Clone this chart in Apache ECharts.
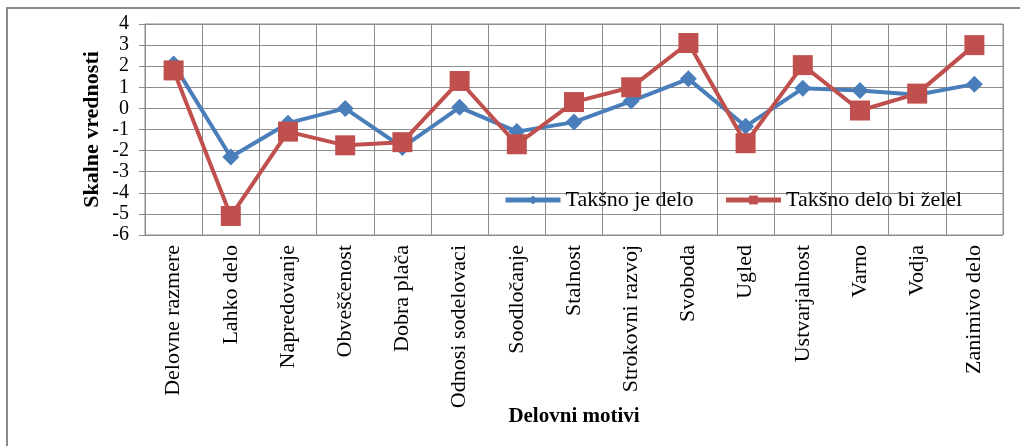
<!DOCTYPE html>
<html>
<head>
<meta charset="utf-8">
<script src="https://cdn.jsdelivr.net/npm/echarts@6/dist/echarts.min.js"></script>
<style>
  html, body { margin: 0; padding: 0; background: #fff; }
  #chart { width: 1020px; height: 446px; }
</style>
</head>
<body>
<div id="chart"></div>
<script>
let categories = ['Delovne razmere', 'Lahko delo', 'Napredovanje', 'Obveščenost', 'Dobra plača',
  'Odnosi sodelovaci', 'Soodločanje', 'Stalnost', 'Strokovni razvoj', 'Svoboda',
  'Ugled', 'Ustvarjalnost', 'Varno', 'Vodja', 'Zanimivo delo'];
let jeDelo = [2.1, -2.3, -0.7, 0.0, -1.85, 0.05, -1.1, -0.65, 0.35, 1.4, -0.85, 0.95, 0.85, 0.65, 1.15];
let biZelel = [1.8, -5.1, -1.1, -1.75, -1.6, 1.3, -1.7, 0.3, 1.0, 3.1, -1.65, 2.05, -0.1, 0.7, 3.0];
let seriesNames = ['Takšno je delo', 'Takšno delo bi želel'];

let font = 'Liberation Serif';
let gridColor = '#8c8c8c';

let chart = echarts.init(document.getElementById('chart'));
let option = {
  animation: false,
  textStyle: { fontFamily: font, color: '#000' },
  graphic: [{
    type: 'rect',
    shape: { x: 7, y: 8, width: 1040, height: 470 },
    style: { fill: 'none', stroke: '#8a8a8a', lineWidth: 2 }
  }],
  grid: {
    left: 145, right: 17, top: 24, bottom: 211,
    show: true, borderColor: gridColor, borderWidth: 1
  },
  legend: {
    left: 503, top: 189,
    padding: 0,
    itemWidth: 55, itemHeight: 11, itemGap: 30,
    lineStyle: { width: 5 },
    textStyle: { fontFamily: font, fontSize: 22, color: '#000' },
    data: seriesNames
  },
  xAxis: {
    type: 'category',
    data: categories,
    boundaryGap: true,
    name: 'Delovni motivi',
    nameLocation: 'middle',
    nameGap: 171,
    nameMoveOverlap: false,
    nameTextStyle: { fontFamily: font, fontSize: 21, fontWeight: 'bold', color: '#000' },
    axisLine: { lineStyle: { color: gridColor } },
    axisTick: { show: true, length: 5, lineStyle: { color: gridColor } },
    splitLine: { show: true, lineStyle: { color: gridColor } },
    axisLabel: { rotate: 90, margin: 10, fontFamily: font, fontSize: 22, color: '#000' }
  },
  yAxis: {
    type: 'value',
    min: -6, max: 4, interval: 1,
    name: 'Skalne vrednosti',
    nameLocation: 'middle',
    nameGap: 42,
    nameMoveOverlap: false,
    nameTextStyle: { fontFamily: font, fontSize: 22, fontWeight: 'bold', color: '#000' },
    axisLine: { show: true, lineStyle: { color: gridColor } },
    axisTick: { show: true, length: 6, lineStyle: { color: gridColor } },
    splitLine: { show: true, lineStyle: { color: gridColor } },
    axisLabel: { margin: 16, fontFamily: font, fontSize: 20, color: '#000' }
  },
  series: [{
    name: seriesNames[0],
    type: 'line',
    data: jeDelo,
    symbol: 'diamond',
    symbolSize: 17,
    itemStyle: { color: '#4a7ebb' },
    lineStyle: { width: 4, color: '#4a7ebb' },
    z: 2
  }, {
    name: seriesNames[1],
    type: 'line',
    data: biZelel,
    symbol: 'rect',
    symbolSize: 20,
    itemStyle: { color: '#c0504d' },
    lineStyle: { width: 4, color: '#c0504d' },
    z: 3
  }]
};
chart.setOption(option);
window.addEventListener('resize', function () {
  chart.resize();
});
</script>
</body>
</html>
